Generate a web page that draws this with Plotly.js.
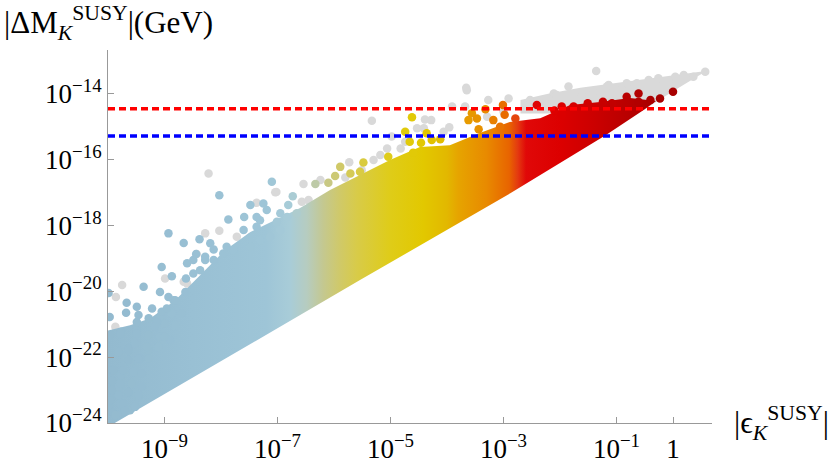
<!DOCTYPE html>
<html><head><meta charset="utf-8">
<script src="https://cdn.plot.ly/plotly-3.0.1.min.js"></script>
<style>html,body{margin:0;padding:0;background:#fff}#plot{width:830px;height:465px}</style>
</head><body><div id="plot"></div>
<script>
// All values are log10 of |eps_K^SUSY| (x) and |dM_K^SUSY| in GeV (y).
// Upper edge of the dense coloured cloud
const coreUpperX = [-10.0,-9.61,-9.25,-8.81,-8.37,-7.93,-7.48,-7.13,-6.60,-6.07,-5.54,-5.01,-4.48,-3.95,-3.42,-2.89,-2.35,-1.82,-1.29,-0.76,-0.30];
const coreUpperY = [-21.19,-21.03,-20.82,-20.27,-19.51,-18.75,-18.20,-17.90,-17.47,-16.92,-16.47,-16.01,-15.62,-15.56,-15.19,-14.86,-14.74,-14.34,-14.25,-14.13,-14.22];
// Lower edge of the cloud
const coreLowerX = [-10.0,-7.22,-5.54,-2.88,-2.05,-1.20,-0.52,-0.30];
const coreLowerY = [-24.12,-21.33,-19.66,-17.02,-16.16,-15.27,-14.49,-14.22];
// Dense grey band at the upper right
const greyBandX = [-2.70,-2.17,-1.64,-1.12,-0.59,-0.06,0.58,0.62,0.00,-0.52,-1.20,-2.70];
const greyBandY = [-14.19,-13.98,-13.82,-13.70,-13.58,-13.46,-13.31,-13.28,-13.92,-14.49,-14.60,-14.60];
// Scattered coloured points above the cloud
const ptX = [-9.05,-8.87,-9.37,-9.99,-9.67,-9.49,-9.68,-9.97,-9.46,-9.28,-9.08,-9.77,-9.49,-9.96,-9.64,-9.81,-9.98,-9.43,-9.28,-9.61,-9.93,-9.77,-9.96,-9.81,-9.64,-9.46,-9.93,-9.78,-9.61,-9.93,-9.83,-9.98,
  -9.08,-8.93,-8.84,-9.22,-9.05,-8.87,-8.69,-9.49,-9.13,-8.99,-8.81,-9.78,-9.49,-9.28,-9.08,-8.90,-9.52,-9.31,-9.11,-9.64,-9.46,-9.28,-9.64,-9.90,-9.73,-9.55,-9.40,-9.93,-9.78,-9.58,-9.40,-9.93,-9.81,-9.64,-9.46,-9.96,-9.73,-9.52,-9.87,-9.70,
  -8.49,-8.13,-7.96,-7.78,-7.48,-7.31,-7.13,-6.95,-7.31,-7.01,-6.83,-6.66,-8.37,-8.60,
  -8.49,-8.28,-8.63,-8.81,-8.96,-9.17,-9.00,-8.93,-8.66,-8.38,-8.19,-8.03,-7.10,-7.87,-7.60,-7.48,-7.25,-7.37,-7.19,-6.95,-6.73,-6.81,-8.44,-8.62,-8.28,-8.13,-7.90,-7.37,-7.59,
  -6.33,-6.10,-5.89,-5.71,-5.54,-5.98,-5.48,-4.62,-4.74,-5.04,-4.36,-4.66,-4.46,-4.60,-4.27,
  -3.56,-3.62,-3.47,-3.32,-3.18,-3.01,-4.12,-2.98,-3.44,-2.79,-3.06,
  -2.10,-1.97,-2.41,-1.76,-1.51,-1.24,-1.08,-0.82,-0.61,-0.61,-0.40,-0.23,0.00,-1.97];
const ptY = [-19.26,-19.54,-19.86,-20.05,-20.35,-20.47,-20.65,-20.78,-20.72,-20.82,-20.78,-21.23,-21.18,-21.33,-21.74,-21.84,-21.99,-22.04,-21.79,-22.14,-22.40,-22.55,-22.90,-22.90,-23.10,-23.21,-23.21,-23.41,-23.61,-23.66,-23.76,-23.46,
  -20.02,-20.17,-20.27,-20.52,-20.62,-20.67,-20.67,-20.93,-20.93,-20.98,-21.03,-21.28,-21.28,-21.33,-21.38,-21.48,-21.58,-21.69,-21.69,-21.79,-22.04,-22.04,-22.09,-22.40,-22.40,-22.45,-22.50,-22.70,-22.80,-22.80,-22.90,-23.00,-23.16,-23.06,-23.16,-23.31,-23.41,-23.51,-23.76,-23.61,
  -19.05,-19.05,-18.85,-18.75,-18.65,-18.44,-18.34,-18.14,-17.84,-17.89,-17.74,-17.63,-19.36,-19.15,
  -19.46,-19.05,-20.02,-20.27,-20.52,-21.08,-21.38,-18.24,-18.53,-18.42,-18.54,-17.08,-16.67,-17.82,-18.14,-17.38,-17.33,-17.74,-17.53,-17.63,-17.11,-17.38,-18.87,-19.61,-18.95,-18.73,-18.65,-18.04,-17.74,
  -16.74,-16.70,-16.22,-16.42,-16.37,-16.50,-16.09,-14.71,-15.15,-15.91,-15.20,-15.46,-15.49,-15.79,-15.40,
  -14.59,-14.80,-14.75,-14.47,-14.80,-14.34,-15.38,-14.64,-15.08,-14.75,-15.00,
  -14.51,-14.39,-14.34,-14.39,-14.29,-14.24,-14.29,-14.09,-13.99,-14.24,-14.19,-14.14,-13.94,-14.64];
// Scattered grey points
const greyX = [-9.75,-9.86,-8.99,-8.66,-8.43,-9.87,-9.37,-9.70,-9.40,-9.84,-8.22,-8.03,-7.37,-7.02,-6.54,-6.57,-6.24,-5.73,-5.33,-4.53,-4.74,-5.06,-7.72,-8.28,-7.48,-6.45,-5.80,-4.39,-4.28,-4.98,-4.82,-5.18,-5.30,-5.51,-4.06,-3.96,-3.83,-3.68,-3.27,-3.29,-3.00,-3.65,-3.91,-3.66,-2.91,-2.53,-2.38,-2.11,-1.85,-2.23,-1.61,-1.41,-1.36,-1.14,-0.99,-0.82,-0.64,-0.43,-0.26,-0.08,0.19,0.36,0.57,-1.17,0.04,-2.06,-4.41,
  -8.60,-8.72,-9.43,-9.61,-9.66,-7.04];
const greyY = [-19.81,-20.17,-19.61,-19.71,-18.87,-21.08,-21.69,-22.60,-21.38,-23.76,-16.42,-18.16,-17.31,-16.98,-16.74,-17.28,-16.62,-16.08,-14.82,-15.05,-15.46,-15.66,-18.34,-18.24,-18.36,-17.23,-16.54,-14.78,-14.80,-15.30,-15.66,-15.86,-16.01,-16.32,-15.15,-15.02,-15.66,-14.39,-14.19,-14.70,-14.54,-13.89,-14.39,-13.82,-14.14,-14.19,-14.24,-13.99,-13.78,-14.34,-14.04,-13.94,-13.31,-13.73,-13.89,-13.68,-13.68,-13.58,-13.53,-13.63,-13.43,-13.48,-13.33,-13.78,-13.48,-14.04,-15.05,
  -19.76,-20.57,-21.54,-21.94,-22.55,-16.99];
// Colour key along log10|eps_K| and reference lines (GeV)
const colorKeyX = [-10,-8.5,-7.2,-6.78,-6.48,-6.19,-5.89,-5.59,-5.0,-4.42,-4.0,-3.8,-3.3,-2.9,-2.75,-2.6,-2.0,-1.4,-0.8,-0.3];
const colorKeyC = ['#93BACF','#99C0D4','#9EC5D7','#A8CCD8','#B6CCC0','#C4C890','#D0C968','#D8CB48','#DFCC18','#E2C800','#E2B800','#E6A400','#E88A00','#E86400','#E43A10','#E00808','#DC0000','#CC0000','#B80000','#A80000'];
const redLineY = 3.5e-15;
const blueLineY = 5.2e-16;
const xTickVals = [1e-9,1e-7,1e-5,1e-3,1e-1,1];
const xTickText = ['10<sup>−9</sup>','10<sup>−7</sup>','10<sup>−5</sup>','10<sup>−3</sup>','10<sup>−1</sup>','1'];
const yTickVals = [1e-24,1e-22,1e-20,1e-18,1e-16,1e-14];
const yTickText = ['10<sup>−24</sup>','10<sup>−22</sup>','10<sup>−20</sup>','10<sup>−18</sup>','10<sup>−16</sup>','10<sup>−14</sup>'];

const p10 = a => a.map(v => Math.pow(10, v));
const cmin = colorKeyX[0], cmax = colorKeyX[colorKeyX.length-1];
const cs = colorKeyX.map((v,i) => [(v-cmin)/(cmax-cmin), colorKeyC[i]]);
const xRange = [-10, 0.69], yRange = [-24, -12.67];

const polyX = coreUpperX.concat(coreLowerX.slice().reverse());
const polyY = coreUpperY.concat(coreLowerY.slice().reverse());

const traces = [
  {type:'scatter', mode:'lines', x:p10(greyBandX), y:p10(greyBandY), fill:'toself', fillcolor:'#D9D9D9', line:{width:0, color:'#D9D9D9'}, hoverinfo:'skip', showlegend:false},
  {type:'scatter', mode:'markers', x:p10(greyX), y:p10(greyY), marker:{size:8.5, color:'#D9D9D9'}, hoverinfo:'skip', showlegend:false},
  {type:'scatter', mode:'lines', x:p10(polyX), y:p10(polyY), fill:'toself', line:{width:0, color:'#A2C6D7'},
   fillgradient:{type:'horizontal', colorscale:cs}, hoverinfo:'skip', showlegend:false},
  {type:'scatter', mode:'markers', x:p10(ptX), y:p10(ptY), marker:{size:8.5, color:ptX, cmin:cmin, cmax:cmax, colorscale:cs, showscale:false}, hoverinfo:'skip', showlegend:false},
  {type:'scatter', mode:'lines', x:p10(xRange), y:[redLineY, redLineY], line:{color:'#FF0000', width:3.5, dash:'7px,4px'}, hoverinfo:'skip', showlegend:false},
  {type:'scatter', mode:'lines', x:p10(xRange), y:[blueLineY, blueLineY], line:{color:'#0000FF', width:3.5, dash:'7px,4px'}, hoverinfo:'skip', showlegend:false}
];

const axisFont = {family:'"Liberation Serif", "DejaVu Serif", serif', size:27, color:'#000'};
const layout = {
  width:830, height:465,
  margin:{l:108, r:118, t:50, b:42},
  paper_bgcolor:'#fff', plot_bgcolor:'#fff',
  showlegend:false,
  xaxis:{type:'log', range:xRange, showgrid:false, zeroline:false, showline:true, linecolor:'#999', linewidth:1,
    ticks:'inside', ticklen:6, tickcolor:'#999', tickvals:xTickVals, ticktext:xTickText, tickfont:axisFont, ticklabelstandoff:2},
  yaxis:{type:'log', range:yRange, showgrid:false, zeroline:false, showline:true, linecolor:'#999', linewidth:1,
    ticks:'inside', ticklen:6, tickcolor:'#999', tickvals:yTickVals, ticktext:yTickText, tickfont:axisFont},
  annotations:[
    {xref:'paper', yref:'paper', x:-0.1755, y:1.072, xanchor:'left', yanchor:'middle', showarrow:false,
     text:'|ΔM<sub><i>K</i></sub><sup>SUSY</sup>|(GeV)', font:{family:'"Liberation Serif", serif', size:31, color:'#000'}},
    {xref:'paper', yref:'paper', x:1.033, y:0, xanchor:'left', yanchor:'middle', showarrow:false,
     text:'|ϵ<sub><i>K</i></sub><sup>SUSY</sup>|', font:{family:'"Liberation Serif", serif', size:31, color:'#000'}}
  ]
};
Plotly.newPlot('plot', traces, layout, {staticPlot:true, displayModeBar:false});
</script>
</body></html>
